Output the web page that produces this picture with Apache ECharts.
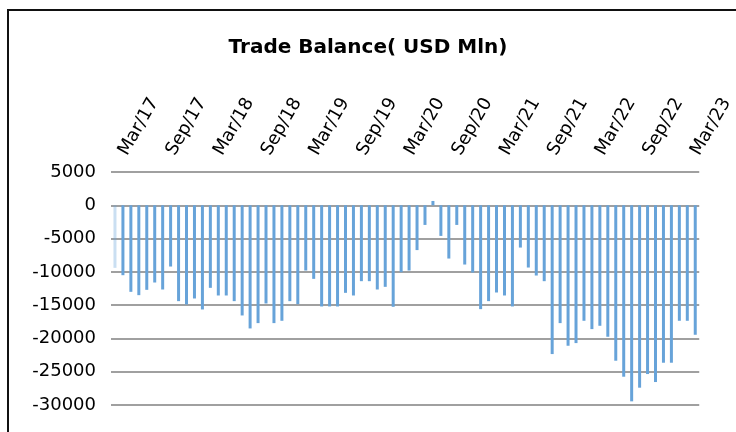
<!DOCTYPE html>
<html>
<head>
  <meta charset="utf-8">
  <title>Trade Balance</title>
  <style>
    body {
      margin: 0;
      background: #fff;
    }

    .frame {
      position: absolute;
      left: 7px;
      top: 9px;
      width: 760px;
      height: 440px;
      border-top: 2px solid #111;
      border-left: 2px solid #111;
    }

    #chart {
      position: absolute;
      left: 0;
      top: 0;
      width: 736px;
      height: 432px;
    }
  </style>
</head>
<body>
  <div class="frame"></div>
  <div id="chart"></div>
  <script src="https://cdn.jsdelivr.net/npm/echarts@6/dist/echarts.min.js"></script>
  <script>
    // months, Feb/17 .. Mar/23
    var months = [
      'Feb/17', 'Mar/17', 'Apr/17', 'May/17', 'Jun/17', 'Jul/17', 'Aug/17', 'Sep/17', 'Oct/17', 'Nov/17', 'Dec/17',
      'Jan/18', 'Feb/18', 'Mar/18', 'Apr/18', 'May/18', 'Jun/18', 'Jul/18', 'Aug/18', 'Sep/18', 'Oct/18', 'Nov/18', 'Dec/18',
      'Jan/19', 'Feb/19', 'Mar/19', 'Apr/19', 'May/19', 'Jun/19', 'Jul/19', 'Aug/19', 'Sep/19', 'Oct/19', 'Nov/19', 'Dec/19',
      'Jan/20', 'Feb/20', 'Mar/20', 'Apr/20', 'May/20', 'Jun/20', 'Jul/20', 'Aug/20', 'Sep/20', 'Oct/20', 'Nov/20', 'Dec/20',
      'Jan/21', 'Feb/21', 'Mar/21', 'Apr/21', 'May/21', 'Jun/21', 'Jul/21', 'Aug/21', 'Sep/21', 'Oct/21', 'Nov/21', 'Dec/21',
      'Jan/22', 'Feb/22', 'Mar/22', 'Apr/22', 'May/22', 'Jun/22', 'Jul/22', 'Aug/22', 'Sep/22', 'Oct/22', 'Nov/22', 'Dec/22',
      'Jan/23', 'Feb/23', 'Mar/23'
    ];

    // trade balance, USD Mln
    var balance = [
      -9400, -10500, -13000, -13500, -12700, -11600, -12650, -9200, -14400, -14900, -14000,
      -15650, -12400, -13550, -13550, -14400, -16550, -18500, -17700, -14750, -17700, -17350, -14400,
      -14850, -9800, -11050, -15200, -15200, -15200, -13150, -13550, -11400, -11400, -12650, -12250,
      -15250, -10050, -9800, -6730, -2950, 650, -4600, -8000, -2950, -8900, -10100, -15600,
      -14400, -13100, -13550, -15200, -6350, -9350, -10550, -11400, -22350, -17700, -21100, -20700,
      -17350, -18600, -18100, -19750, -23350, -25750, -29450, -27400, -25350, -26550, -23650, -23650,
      -17350, -17350, -19450
    ];

    var shownLabels = ['Mar', 'Sep'];
    var yMin = -30000;
    var yMax = 5000;
    var yStep = 5000;

    var chart = echarts.init(document.getElementById('chart'));

    var barData = balance.map(function (v, i) {
      // first bar is only half inside the plot in the original
      if (i === 0) {
        return { value: v, itemStyle: { opacity: 0.35 } };
      }
      return v;
    });

    var option = {
      animation: false,
      title: {
        text: 'Trade Balance( USD Mln)',
        left: 'center',
        top: 33,
        textStyle: {
          fontFamily: 'DejaVu Sans',
          fontWeight: 'bold',
          fontSize: 20,
          color: '#000'
        }
      },
      grid: {
        left: 111,
        right: 35,
        top: 172,
        bottom: 27
      },
      xAxis: {
        type: 'category',
        position: 'top',
        data: months,
        boundaryGap: true,
        axisLine: { show: false },
        axisTick: { show: false },
        axisLabel: {
          rotate: 60,
          margin: 18,
          fontFamily: 'DejaVu Sans',
          fontSize: 18,
          color: '#000',
          interval: function (idx, val) {
            return shownLabels.indexOf(val.slice(0, 3)) !== -1;
          }
        }
      },
      yAxis: {
        type: 'value',
        min: yMin,
        max: yMax,
        interval: yStep,
        axisLine: { show: false },
        axisTick: { show: false },
        axisLabel: {
          margin: 15,
          fontFamily: 'DejaVu Sans',
          fontSize: 18,
          color: '#000',
          formatter: function (v) {
            return String(v);
          }
        },
        splitLine: {
          lineStyle: { color: '#a0a0a0', width: 2 }
        }
      },
      series: [{
        type: 'bar',
        data: barData,
        barWidth: 3,
        itemStyle: { color: '#67a3d9' }
      }]
    };

    chart.setOption(option);
  </script>
</body>
</html>
